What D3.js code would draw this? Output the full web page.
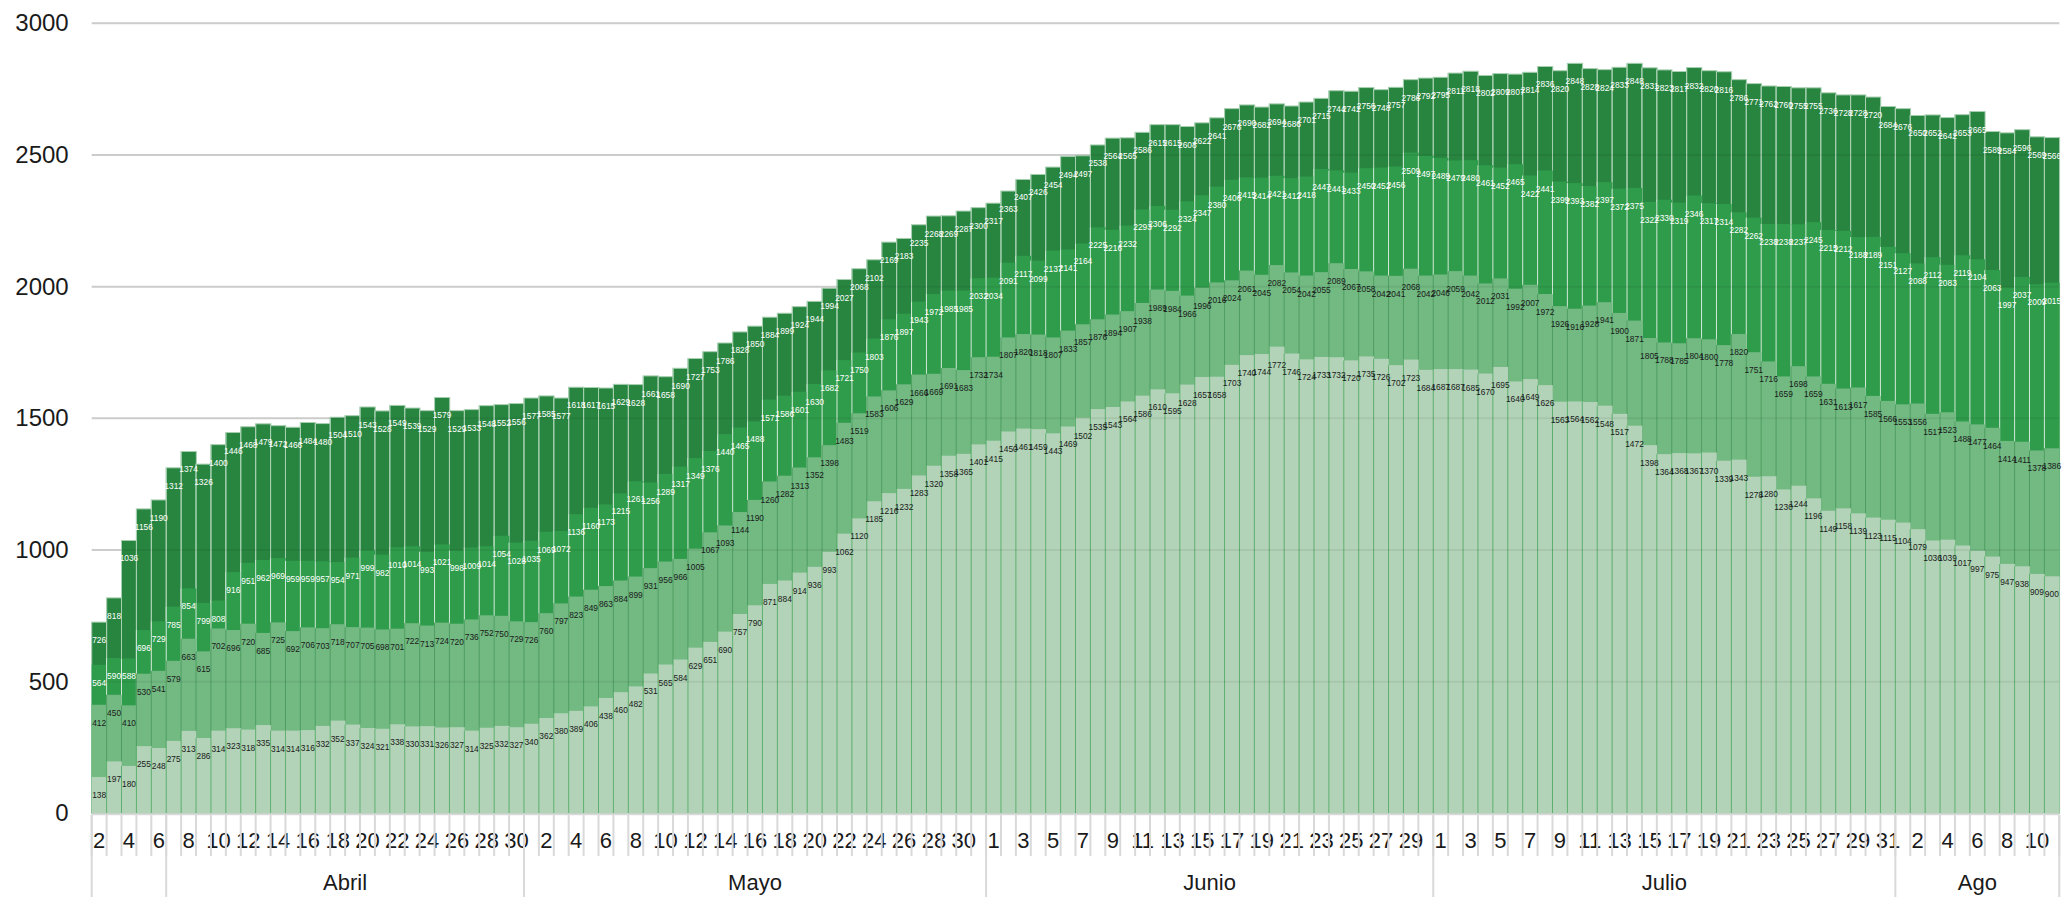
<!DOCTYPE html>
<html>
<head>
<meta charset="utf-8">
<script src="https://cdn.jsdelivr.net/npm/d3@7"></script>
<style>
  html, body { margin: 0; padding: 0; background: #fff; }
  svg { display: block; font-family: "Liberation Sans", Arial, sans-serif; }
</style>
</head>
<body>
<div id="chart"></div>
<script>
// Month groups on the category axis and the days they cover
const monthNames = ["", "Abril", "Mayo", "Junio", "Julio", "Ago"];
const monthDays = [[2, 6], [7, 30], [1, 31], [1, 30], [1, 31], [1, 11]];

// Values shown on the bars (each series drawn from zero, bigger ones behind)
const serie1 = [138,197,180,255,248,275,313,286,314,323,318,335,314,314,316,332,352,337,324,321,338,330,331,326,327,314,325,332,327,340,
  362,380,389,406,438,460,482,531,565,584,629,651,690,757,790,871,884,914,936,993,1062,1120,1185,1216,1232,1283,1320,1358,1365,1401,
  1415,1450,1461,1459,1443,1469,1502,1535,1543,1564,1586,1610,1595,1628,1657,1658,1703,1740,1744,1772,1746,1724,1733,1732,1720,1735,1726,1702,1723,1684,
  1687,1687,1685,1670,1695,1640,1649,1626,1563,1564,1562,1548,1517,1472,1398,1364,1368,1367,1370,1339,1343,1278,1280,1230,1244,1196,1149,1158,1139,1123,1115,
  1104,1079,1036,1039,1017,997,975,947,938,909,900];
const serie2 = [412,450,410,530,541,579,663,615,702,696,720,685,725,692,706,703,718,707,705,698,701,722,713,724,720,736,752,750,729,726,
  760,797,823,849,863,884,899,931,956,966,1005,1067,1093,1144,1190,1260,1282,1313,1352,1398,1483,1519,1583,1606,1629,1666,1669,1691,1683,1732,
  1734,1807,1820,1818,1807,1833,1857,1876,1894,1907,1938,1989,1984,1966,1996,2016,2024,2061,2045,2082,2054,2042,2055,2089,2067,2058,2042,2041,2068,2042,
  2046,2059,2042,2012,2031,1992,2007,1972,1926,1916,1928,1941,1900,1871,1805,1788,1785,1804,1800,1778,1820,1751,1716,1659,1698,1659,1631,1613,1617,1585,1566,
  1553,1556,1517,1523,1488,1477,1464,1414,1411,1378,1386];
const serie3 = [564,590,588,696,729,785,854,799,808,916,951,962,969,959,959,957,954,971,999,982,1010,1014,993,1021,998,1009,1014,1054,1028,1035,
  1069,1072,1136,1160,1173,1215,1261,1256,1289,1317,1349,1376,1440,1465,1488,1571,1586,1601,1630,1682,1721,1750,1803,1876,1897,1943,1972,1985,1985,2032,
  2034,2091,2117,2099,2137,2141,2164,2225,2216,2232,2293,2306,2292,2324,2347,2380,2406,2415,2414,2421,2412,2418,2447,2441,2433,2450,2452,2456,2509,2497,
  2489,2479,2480,2461,2452,2465,2422,2441,2399,2393,2382,2397,2372,2375,2322,2330,2319,2346,2317,2314,2282,2262,2238,2238,2237,2245,2215,2212,2188,2189,2151,
  2127,2088,2112,2083,2119,2104,2063,1997,2037,2009,2015];
const serie4 = [726,818,1036,1156,1190,1312,1374,1326,1400,1446,1468,1479,1472,1466,1484,1480,1504,1510,1543,1528,1549,1539,1529,1579,1529,1533,1548,1552,1556,1577,
  1585,1577,1618,1617,1615,1629,1628,1661,1658,1690,1727,1753,1786,1828,1850,1884,1899,1924,1944,1994,2027,2068,2102,2169,2183,2235,2268,2269,2287,2300,
  2317,2363,2407,2426,2454,2494,2497,2538,2564,2565,2586,2615,2615,2608,2622,2641,2676,2690,2682,2694,2686,2701,2715,2744,2742,2756,2748,2757,2786,2792,
  2795,2811,2818,2802,2809,2807,2814,2836,2820,2848,2828,2824,2833,2848,2831,2823,2817,2832,2820,2816,2786,2771,2762,2760,2755,2755,2736,2728,2728,2720,2684,
  2676,2650,2652,2642,2653,2665,2589,2584,2596,2569,2566];

const yTicks = [0, 500, 1000, 1500, 2000, 2500, 3000];

// Build the list of days with their month group
const days = [];
const groups = [];
monthDays.forEach(function(r, m) {
    groups.push({ name: monthNames[m], start: days.length, end: days.length + r[1] - r[0] + 1 });
    for (let d = r[0]; d <= r[1]; d++) days.push({ day: d, month: m });
});

const width = 2066, height = 897;
const plot = { left: 91.7, right: 2059.3, top: 23.3, bottom: 813.3 };

const svg = d3.select("#chart")
    .append("svg")
    .attr("width", width)
    .attr("height", height);

const x = d3.scaleBand()
    .domain(d3.range(days.length))
    .range([plot.left, plot.right])
    .padding(0);

const y = d3.scaleLinear()
    .domain([0, 3000])
    .range([plot.bottom, plot.top]);

// Gridlines behind the bars
svg.append("g")
    .selectAll("line")
    .data(yTicks)
    .enter()
    .append("line")
    .attr("x1", plot.left)
    .attr("x2", plot.right)
    .attr("y1", d => y(d))
    .attr("y2", d => y(d))
    .attr("stroke", "#d9d9d9")
    .attr("stroke-width", 2);

// Series from back to front
const layers = [
    { values: serie4, fill: "#288540", edge: "#a6cfb0", text: "#ffffff", outline: true },
    { values: serie3, fill: "#2f9c4b", edge: "#d2e8d7", text: "#ffffff" },
    { values: serie2, fill: "#72b982", edge: "#4f9e61", text: "#1a1a1a" },
    { values: serie1, fill: "#b2d3b7", edge: "#5fb070", text: "#1a1a1a" }
];

layers.forEach(function(layer) {
    const g = svg.append("g");
    g.selectAll("rect")
        .data(layer.values)
        .enter()
        .append("rect")
        .attr("x", (d, i) => x(i))
        .attr("y", d => y(d))
        .attr("width", x.bandwidth() + 0.3)
        .attr("height", d => y(0) - y(d))
        .attr("fill", layer.fill)
        .attr("stroke", layer.outline ? layer.edge : "none")
        .attr("stroke-width", 1);

    // thin separator on the left side of each bar
    g.selectAll("line")
        .data(layer.values)
        .enter()
        .filter((d, i) => i > 0)
        .append("line")
        .attr("x1", (d, i) => x(i + 1))
        .attr("x2", (d, i) => x(i + 1))
        .attr("y1", y(0))
        .attr("y2", d => y(d))
        .attr("stroke", layer.edge)
        .attr("stroke-width", 1);
});

// Faint gridlines showing through the bars
svg.append("g")
    .selectAll("line")
    .data(yTicks.slice(1))
    .enter()
    .append("line")
    .attr("x1", plot.left)
    .attr("x2", plot.right)
    .attr("y1", d => y(d))
    .attr("y2", d => y(d))
    .attr("stroke", "rgba(0,0,0,0.06)")
    .attr("stroke-width", 2);

// Zero line
svg.append("line")
    .attr("x1", plot.left)
    .attr("x2", plot.right)
    .attr("y1", y(0) + 1)
    .attr("y2", y(0) + 1)
    .attr("stroke", "#d9d9d9")
    .attr("stroke-width", 2);

// Value labels
layers.forEach(function(layer) {
    svg.append("g")
        .selectAll("text")
        .data(layer.values)
        .enter()
        .append("text")
        .attr("x", (d, i) => x(i) + x.bandwidth() / 2)
        .attr("y", d => y(d) + 21)
        .attr("text-anchor", "middle")
        .style("font-size", "8.4px")
        .style("fill", layer.text)
        .text(d => d);
});

// Y axis
const yAxis = svg.append("g")
    .attr("transform", `translate(${plot.left},0)`)
    .call(d3.axisLeft(y).tickValues(yTicks).tickFormat(d3.format("d")).tickSize(0).tickPadding(23));
yAxis.select(".domain").remove();
yAxis.selectAll("text")
    .style("font-size", "24px")
    .style("font-family", "'Liberation Sans', Arial, sans-serif")
    .style("fill", "#1a1a1a");

// X axis: day numbers, every second one
const xAxis = svg.append("g")
    .attr("transform", `translate(0,${plot.bottom})`)
    .call(d3.axisBottom(x).tickSize(0).tickFormat((d, i) => i % 2 === 0 ? days[i].day : ""));
xAxis.select(".domain").remove();
xAxis.selectAll("text")
    .attr("y", 35)
    .attr("dy", 0)
    .style("font-size", "22px")
    .style("font-family", "'Liberation Sans', Arial, sans-serif")
    .style("fill", "#1a1a1a");

// Short separators between days
svg.append("g")
    .selectAll("line")
    .data(d3.range(days.length + 1))
    .enter()
    .append("line")
    .attr("x1", i => i < days.length ? x(i) : plot.right)
    .attr("x2", i => i < days.length ? x(i) : plot.right)
    .attr("y1", 815)
    .attr("y2", 856)
    .attr("stroke", "#d9d9d9")
    .attr("stroke-width", 2);

// Month groups
const edges = groups.map(g => g.start).concat([days.length]);
svg.append("g")
    .selectAll("line")
    .data(edges)
    .enter()
    .append("line")
    .attr("x1", i => i < days.length ? x(i) : plot.right)
    .attr("x2", i => i < days.length ? x(i) : plot.right)
    .attr("y1", 815)
    .attr("y2", height)
    .attr("stroke", "#d9d9d9")
    .attr("stroke-width", 2);

svg.append("g")
    .selectAll("text")
    .data(groups)
    .enter()
    .append("text")
    .attr("x", g => (x(g.start) + (g.end < days.length ? x(g.end) : plot.right)) / 2)
    .attr("y", 890)
    .attr("text-anchor", "middle")
    .style("font-size", "22px")
    .style("fill", "#1a1a1a")
    .text(g => g.name);
</script>
</body>
</html>
